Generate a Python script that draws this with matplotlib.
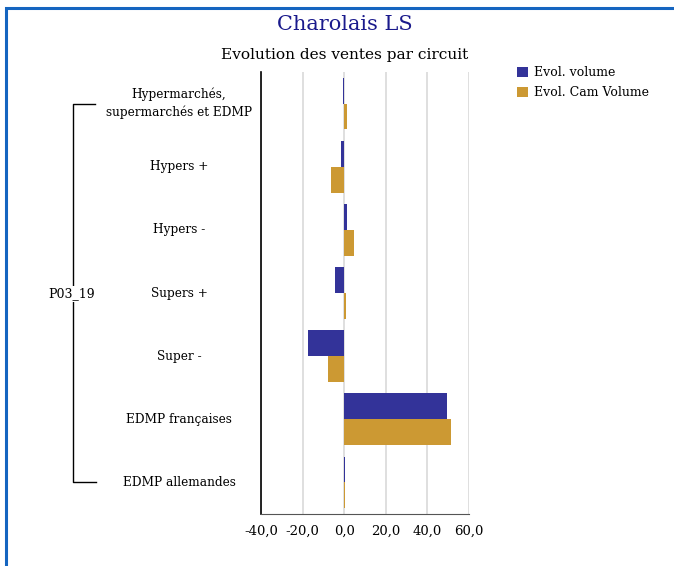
import numpy as np
import matplotlib.pyplot as plt
from matplotlib.patches import Rectangle
from matplotlib.lines import Line2D
from matplotlib.transforms import blended_transform_factory

categories = ['Hypermarchés,\nsupermarchés et EDMP', 'Hypers +', 'Hypers -',
              'Supers +', 'Super -', 'EDMP françaises', 'EDMP allemandes']
evol_volume = [-0.4, -1.6, 1.3, -4.5, -17.6, 49.4, 0.3]
evol_cam_volume = [1.3, -6.3, 4.7, 0.8, -8.0, 51.3, 0.3]
series_names = ['Evol. volume', 'Evol. Cam Volume']
group_label = 'P03_19'
xticks = [-40, -20, 0, 20, 40, 60]

c_blue = '#333399'
c_gold = '#cc9933'
W, H = 674, 566

plt.rcParams['font.family'] = ['DejaVu Serif']
fig = plt.figure(figsize=(W / 100, H / 100), dpi=100)

# cadre bleu
fig.patches.append(Rectangle((6 / W, -0.05), 1.0, 1 - 8 / H + 0.05, transform=fig.transFigure,
                             fill=False, edgecolor='#1565c0', linewidth=2.2))

ax = fig.add_axes([261 / W, 1 - 514 / H, (469 - 261) / W, (514 - 72) / H])
y = np.arange(len(categories))
h = 0.41
ax.barh(y - h / 2, evol_volume, height=h, color=c_blue, label=series_names[0], zorder=3)
ax.barh(y + h / 2, evol_cam_volume, height=h, color=c_gold, label=series_names[1], zorder=3)
ax.set_ylim(len(categories) - 0.5, -0.5)
ax.set_xlim(-40, 60)
ax.set_xticks(xticks)
ax.set_xticklabels([f'{v:.1f}'.replace('.', ',') for v in xticks], fontsize=9.5)
ax.set_yticks([])
ax.grid(axis='x', color='#d9d9d9', linewidth=1.2, zorder=0)
for s in ['top', 'right']:
    ax.spines[s].set_visible(False)
ax.spines['left'].set_linewidth(1.2)
ax.spines['bottom'].set_color('#555555')
ax.tick_params(axis='x', length=0, pad=8)

# libellés des catégories
tr = blended_transform_factory(fig.transFigure, ax.transData)
for i, c in enumerate(categories):
    ax.text(179 / W, i, c, transform=tr, ha='center', va='center', fontsize=8.7,
            linespacing=1.45)

# accolade du groupe
fig.add_artist(Line2D([95 / W, 73 / W, 73 / W, 96 / W], [0, 0, 6, 6], transform=tr,
                      color='black', linewidth=1))
fig.text(72 / W, 1 - 294 / H, group_label, ha='center', va='center', fontsize=9,
         bbox=dict(facecolor='white', edgecolor='none', pad=1))

fig.text(345 / W, 1 - 25 / H, 'Charolais LS', ha='center', va='center', fontsize=15, color='#1a1a8c')
fig.text(345 / W, 1 - 55 / H, 'Evolution des ventes par circuit', ha='center', va='center', fontsize=11.1)

fig.legend(loc='upper left', bbox_to_anchor=(512 / W, 1 - 61 / H), frameon=False, fontsize=9,
           handlelength=0.9, handleheight=0.9, handletextpad=0.5, labelspacing=0.6, borderaxespad=0)

fig.savefig('out.png', dpi=100)
